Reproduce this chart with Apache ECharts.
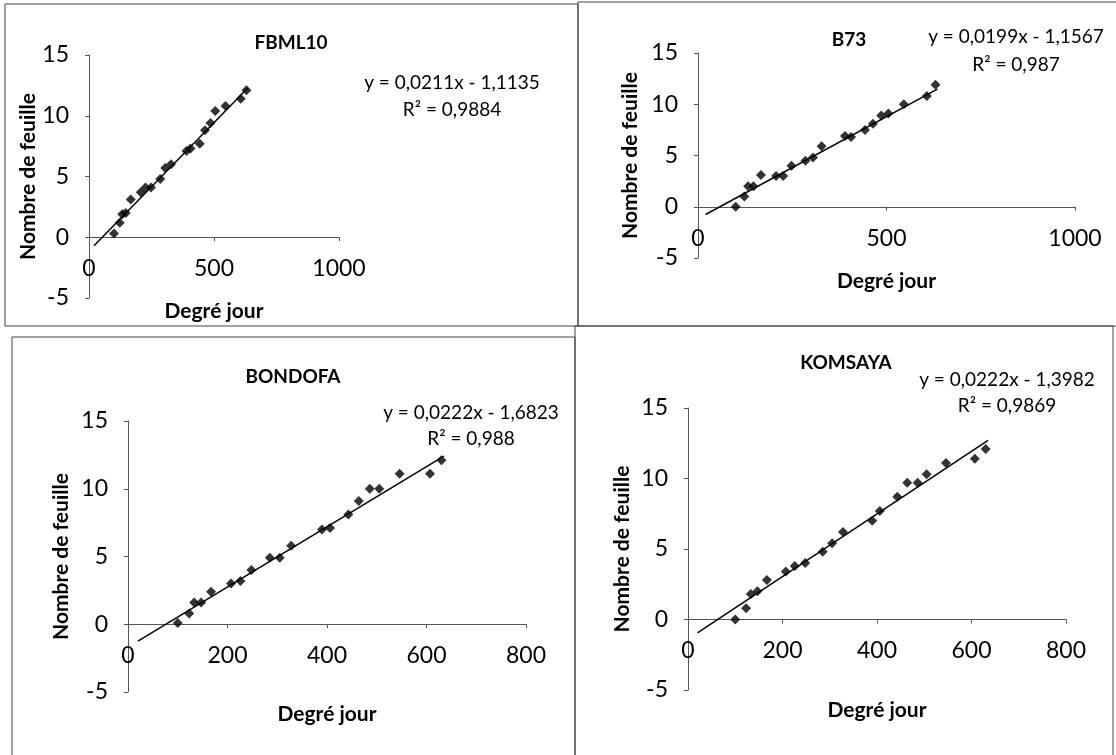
<!DOCTYPE html>
<html>
<head>
<meta charset="utf-8">
<script src="https://cdn.jsdelivr.net/npm/echarts@6/dist/echarts.min.js"></script>
<style>
html, body {margin: 0; padding: 0; background: #fff;}
#main {width: 1116px; height: 755px;}
</style>
</head>
<body>
<div id="main"></div>
<script>
// degré jour cumulés aux dates de comptage (commun aux 4 variétés)
const degreJour = [100, 123, 133, 147, 167, 207, 226, 248, 285, 305, 328, 390, 406, 443, 464, 486, 505, 546, 607, 630];

// nombre de feuilles par variété
const fbml10  = [0.3, 1.2, 1.9, 2.0, 3.1, 3.7, 4.1, 4.1, 4.8, 5.7, 6.0, 7.1, 7.3, 7.7, 8.8, 9.4, 10.4, 10.8, 11.4, 12.1];
const b73     = [0, 1.0, 2.0, 2.0, 3.1, 3.0, 3.0, 4.0, 4.5, 4.8, 5.9, 6.9, 6.8, 7.5, 8.1, 8.9, 9.1, 10.0, 10.8, 11.9];
const bondofa = [0.1, 0.8, 1.6, 1.6, 2.4, 3.0, 3.2, 4.0, 4.9, 4.9, 5.8, 7.0, 7.1, 8.1, 9.1, 10.0, 10.0, 11.1, 11.1, 12.1];
const komsaya = [0, 0.8, 1.8, 2.0, 2.8, 3.4, 3.8, 4.0, 4.8, 5.4, 6.2, 7.0, 7.7, 8.7, 9.7, 9.7, 10.3, 11.1, 11.4, 12.1];

const varietes = ['FBML10', 'B73', 'BONDOFA', 'KOMSAYA'];
const feuilles = [fbml10, b73, bondofa, komsaya];

// courbes de tendance linéaires (Excel)
const pentes = [0.0211, 0.0199, 0.0222, 0.0222];
const constantes = [-1.1135, -1.1567, -1.6823, -1.3982];
const equations = ['y = 0,0211x - 1,1135', 'y = 0,0199x - 1,1567', 'y = 0,0222x - 1,6823', 'y = 0,0222x - 1,3982'];
const r2 = ['R² = 0,9884', 'R² = 0,987', 'R² = 0,988', 'R² = 0,9869'];
const tendanceX = [20, 635];

// axes
const xMax = [1000, 1000, 800, 800];
const xPas = [500, 500, 200, 200];
const yMin = -5, yMax = 15, yPas = 5;

// mise en page des 4 graphiques
const grilles = [
    {left: 89, top: 55, width: 250, height: 243},
    {left: 698, top: 53, width: 377, height: 205},
    {left: 128, top: 421, width: 398, height: 271},
    {left: 688, top: 408, width: 378, height: 282}
];
const gapNomX = [63, 64, 79, 80];
const gapNomY = [48, 57, 56, 55];
const posTitre = [[291, 43], [849, 40], [293, 377], [846, 363]];
const posEquation = [[452, 83, 110], [1016, 37, 65], [471, 413, 439], [1007, 380, 406]];
const cadres = [
    [5, 4, 573, 322],
    [578, 2, 545, 324],
    [12, 337, 563, 430],
    [575, 326, 538, 440]
];

const police = 'Lato, "Open Sans", sans-serif';
const myChart = echarts.init(document.getElementById('main'));

let xAxes = [], yAxes = [], series = [], graphics = [];

cadres.forEach(function (c) {
    graphics.push({
        type: 'rect',
        shape: {x: c[0], y: c[1], width: c[2], height: c[3]},
        style: {fill: 'none', stroke: '#444', lineWidth: 1}
    });
});

varietes.forEach(function (nom, i) {
    // l'axe des x passe par y = 0 (étiquettes comprises, comme dans Excel)
    let decalage = -grilles[i].height * (0 - yMin) / (yMax - yMin);
    xAxes.push({
        gridIndex: i,
        type: 'value',
        min: 0,
        max: xMax[i],
        interval: xPas[i],
        offset: decalage,
        name: 'Degré jour',
        nameLocation: 'middle',
        nameGap: gapNomX[i],
        nameTextStyle: {fontFamily: police, fontWeight: 'bold', fontSize: 21, color: '#000'},
        axisLine: {onZero: false, lineStyle: {color: '#555', width: 1}},
        axisTick: {show: true, length: 4, lineStyle: {color: '#555'}},
        axisLabel: {
            fontFamily: police, fontSize: 23, color: '#000', margin: 20,
            formatter: function (v) { return String(v); }
        },
        splitLine: {show: false}
    });
    yAxes.push({
        gridIndex: i,
        type: 'value',
        min: yMin,
        max: yMax,
        interval: yPas,
        name: 'Nombre de feuille',
        nameLocation: 'middle',
        nameGap: gapNomY[i],
        nameTextStyle: {fontFamily: police, fontWeight: 'bold', fontSize: 21, color: '#000'},
        axisLine: {show: true, onZero: false, lineStyle: {color: '#555', width: 1}},
        axisTick: {show: true, length: 4, lineStyle: {color: '#555'}},
        axisLabel: {
            fontFamily: police, fontSize: 23, color: '#000', margin: 20,
            formatter: function (v) { return String(v); }
        },
        splitLine: {show: false}
    });
    series.push({
        name: nom,
        type: 'scatter',
        xAxisIndex: i,
        yAxisIndex: i,
        symbol: 'diamond',
        symbolSize: 10,
        itemStyle: {color: '#000'},
        data: degreJour.map(function (x, k) { return [x, feuilles[i][k]]; })
    });
    series.push({
        name: nom + ' tendance',
        type: 'line',
        xAxisIndex: i,
        yAxisIndex: i,
        showSymbol: false,
        silent: true,
        lineStyle: {color: '#000', width: 1.5},
        data: tendanceX.map(function (x) { return [x, pentes[i] * x + constantes[i]]; })
    });
    graphics.push({
        type: 'text',
        x: posTitre[i][0],
        y: posTitre[i][1],
        style: {text: nom, align: 'center', verticalAlign: 'middle', font: 'bold 19px ' + police, fill: '#000'}
    });
    graphics.push({
        type: 'text',
        x: posEquation[i][0],
        y: posEquation[i][1],
        style: {text: equations[i], align: 'center', verticalAlign: 'middle', font: '19px ' + police, fill: '#000'}
    });
    graphics.push({
        type: 'text',
        x: posEquation[i][0],
        y: posEquation[i][2],
        style: {text: r2[i], align: 'center', verticalAlign: 'middle', font: '19px ' + police, fill: '#000'}
    });
});

myChart.setOption({
    animation: false,
    backgroundColor: '#fff',
    grid: grilles,
    xAxis: xAxes,
    yAxis: yAxes,
    series: series,
    graphic: graphics
});
</script>
</body>
</html>
